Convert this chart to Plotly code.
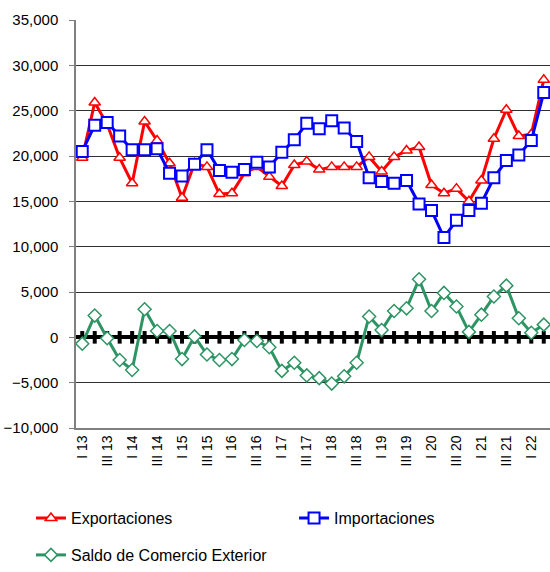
import plotly.graph_objects as go

# quarters I 13 .. II 22
roman = ['I', 'II', 'III', 'IV']
quarters = [f'{q} {y}' for y in range(13, 23) for q in roman][:38]

exportaciones = [19800, 25900, 23500, 19800, 17000, 23800, 21700, 19200, 15400, 19200,
                 18800, 15800, 15900, 18100, 18800, 17700, 16700, 19000, 19400, 18500,
                 18800, 18800, 18800, 19900, 18300, 19900, 20600, 21000, 16800, 15900,
                 16400, 15000, 17300, 21900, 25100, 22200, 22400, 28400]

importaciones = [20500, 23400, 23700, 22200, 20700, 20700, 20800, 18100, 17800, 19100,
                 20700, 18400, 18200, 18500, 19300, 18800, 20400, 21800, 23600, 23000,
                 23900, 23100, 21600, 17600, 17200, 17000, 17300, 14700, 14000, 11000,
                 12900, 14000, 14800, 17600, 19500, 20100, 21700, 27000]

saldo = [-700, 2400, -100, -2500, -3600, 3100, 700, 700, -2400, 100,
         -1900, -2500, -2400, -300, -400, -1100, -3700, -2800, -4200, -4500,
         -5100, -4300, -2800, 2300, 800, 2900, 3200, 6400, 2900, 4900,
         3400, 600, 2500, 4500, 5700, 2100, 500, 1400]

fig = go.Figure()

# zero reference line with tick markers
fig.add_trace(go.Scatter(
    x=quarters, y=[0] * len(quarters), mode='markers',
    marker=dict(symbol='line-ns', size=9, line=dict(color='black', width=4)),
    showlegend=False, hoverinfo='skip'))

fig.add_trace(go.Scatter(
    x=quarters, y=exportaciones, name='Exportaciones', mode='lines+markers',
    line=dict(color='#FF0000', width=3),
    marker=dict(symbol='triangle-up', size=10, color='white',
                line=dict(color='#FF0000', width=1.5)),
    legend='legend'))

fig.add_trace(go.Scatter(
    x=quarters, y=importaciones, name='Importaciones', mode='lines+markers',
    line=dict(color='#0000FF', width=3),
    marker=dict(symbol='square', size=11, color='white',
                line=dict(color='#0000FF', width=2)),
    legend='legend3'))

fig.add_trace(go.Scatter(
    x=quarters, y=saldo, name='Saldo de Comercio Exterior', mode='lines+markers',
    line=dict(color='#2E9464', width=3),
    marker=dict(symbol='diamond', size=10, color='white',
                line=dict(color='#2E9464', width=1.5)),
    legend='legend2'))

leg = dict(xanchor='left', yanchor='middle', bgcolor='rgba(0,0,0,0)', font=dict(size=16))
fig.update_layout(
    width=550, height=572,
    margin=dict(l=76, r=0, t=20, b=144),
    plot_bgcolor='white', paper_bgcolor='white',
    font=dict(family='Liberation Sans, Arial, sans-serif', size=13, color='black'),
    showlegend=True,
    legend=dict(x=-0.095, y=-0.221, **leg),
    legend3=dict(x=0.46, y=-0.221, **leg),
    legend2=dict(x=-0.095, y=-0.312, **leg),
)

fig.update_xaxes(
    type='category', range=[-0.5, len(quarters) - 0.5],
    tickmode='array', tickvals=quarters[::2], ticktext=quarters[::2],
    tickangle=-90, showgrid=False, showline=True, linecolor='#808080', linewidth=1.5,
    ticks='', tickfont=dict(size=14))

fig.update_yaxes(
    range=[-10000, 35000], dtick=5000, tickformat=',',
    showgrid=True, gridcolor='#303030', gridwidth=1,
    showline=True, linecolor='#808080', linewidth=1.5,
    ticks='outside', ticklen=5, tickcolor='#808080', ticklabelstandoff=8,
    zeroline=True, zerolinecolor='black', zerolinewidth=4,
    tickfont=dict(size=15))

fig.write_html('out.html', config={'displayModeBar': False},
               post_script="document.body.style.margin='0';")
